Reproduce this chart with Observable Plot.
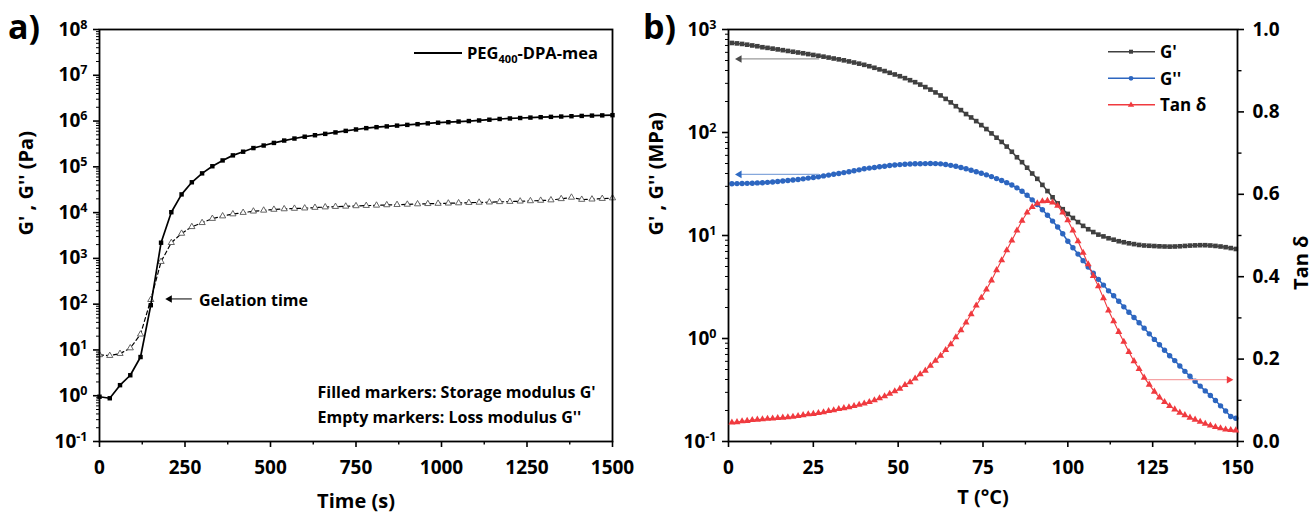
<!DOCTYPE html>
<html><head><meta charset="utf-8">
<script src="https://cdn.jsdelivr.net/npm/d3@7"></script>
<script src="https://cdn.jsdelivr.net/npm/@observablehq/plot@0.6"></script>
<style>
body{margin:0;background:#fff;}
#wrap{position:relative;width:1313px;height:517px;overflow:hidden;background:#fff;}
</style></head><body><div id="wrap"></div>
<script>
// ---------- Panel a data: time sweep ----------
const timeS = [0,30,60,90,120,150,180,210,240,270,300,330,360,390,420,450,480,510,540,570,600,630,660,690,720,750,780,810,840,870,900,930,960,990,1020,1050,1080,1110,1140,1170,1200,1230,1260,1290,1320,1350,1380,1410,1440,1470,1500];
const storageA = [0.95,0.88,1.7,2.8,7,95,2200,10200,25000,46000,
  72000,103000,138000,178000,214000,257000,292000,333000,375000,415000,
  455000,490000,525000,565000,610000,655000,700000,735000,765000,795000,
  825000,855000,890000,920000,945000,975000,1000000,1030000,1070000,1110000,
  1140000,1165000,1190000,1215000,1235000,1255000,1275000,1295000,1315000,1330000,
  1345000];
const lossA = [7.8,7.5,8.3,11,22,125,850,2200,3500,4900,
  6000,7400,8400,9300,10000,10700,11200,11700,12000,12300,
  12500,12900,13200,13500,13700,14000,14200,14400,14700,14900,
  15100,15400,15600,15800,16000,16200,16500,16700,16900,17200,
  17400,17700,18000,18400,18800,20000,21500,19300,19600,20200,
  20800];
const xTicksA = [0,250,500,750,1000,1250,1500];
const xMinorA = [125,375,625,875,1125,1375];
const yTicksA = [1e-1,1e0,1e1,1e2,1e3,1e4,1e5,1e6,1e7,1e8];
const gelation = [{tail: 270, head: 205, g: 130, label: 291}];

// ---------- Panel b data: temperature sweep ----------
const tempC = [1,2.5,4,5.5,7,8.5,10,11.5,13,14.5,
  16,17.5,19,20.5,22,23.5,25,26.5,28,29.5,
  31,32.5,34,35.5,37,38.5,40,41.5,43,44.5,
  46,47.5,49,50.5,52,53.5,55,56.5,58,59.5,
  61,62.5,64,65.5,67,68.5,70,71.5,73,74.5,
  76,77.5,79,80.5,82,83.5,85,86.5,88,89.5,
  91,92.5,94,95.5,97,98.5,100,101.5,103,104.5,
  106,107.5,109,110.5,112,113.5,115,116.5,118,119.5,
  121,122.5,124,125.5,127,128.5,130,131.5,133,134.5,
  136,137.5,139,140.5,142,143.5,145,146.5,148,149.5];
const storageB = [740,733,724,712,700,688,673,663,652,641,
  630,619,608,598,588,577,566,556,545,534,
  523,513,502,490,478,466,454,440,425,410,
  395,380,366,352,337,322,308,292,276,261,
  245,229,212,196,180,165,151,140,129,118,
  108,98,89,81,73,65,57.5,51.5,45.5,40,
  35.5,31,27,23.5,20.5,18,16.2,14.8,13.5,12.4,
  11.5,10.8,10.2,9.8,9.4,9.1,8.8,8.6,8.4,8.25,
  8.1,8.0,7.95,7.9,7.85,7.82,7.8,7.82,7.86,7.92,
  7.98,8.02,8.05,8.05,8.0,7.92,7.82,7.7,7.55,7.4];
const lossB = [31.8,31.9,32.0,32.1,32.2,32.4,32.5,32.8,33.1,33.4,
  33.8,34.2,34.6,35.0,35.5,36.1,36.6,37.2,37.9,38.6,
  39.3,40.0,40.8,41.6,42.5,43.4,44.4,45.1,45.8,46.5,
  47.1,47.8,48.3,48.8,49.1,49.4,49.7,49.8,49.9,50.0,
  49.9,49.6,48.9,48.0,47.0,45.8,44.5,43.0,41.6,40.2,
  38.8,37.3,35.7,34.2,32.6,30.9,29.0,26.9,24.6,22.2,
  20.0,17.8,15.7,13.8,12.1,10.4,8.8,7.6,6.6,5.7,
  4.95,4.3,3.75,3.3,2.9,2.6,2.3,2.03,1.8,1.6,
  1.42,1.26,1.11,0.98,0.87,0.77,0.68,0.61,0.54,0.48,
  0.43,0.385,0.345,0.31,0.28,0.25,0.222,0.198,0.175,0.168];
const tanDelta = [0.046,0.047,0.049,0.050,0.052,0.053,0.054,0.055,0.056,0.057,
  0.058,0.059,0.060,0.062,0.064,0.066,0.067,0.069,0.071,0.074,
  0.076,0.079,0.081,0.083,0.086,0.089,0.092,0.096,0.100,0.105,
  0.110,0.116,0.122,0.128,0.137,0.144,0.153,0.163,0.172,0.184,
  0.196,0.208,0.222,0.236,0.253,0.270,0.289,0.309,0.330,0.349,
  0.369,0.391,0.416,0.440,0.464,0.488,0.512,0.536,0.556,0.569,
  0.578,0.583,0.584,0.580,0.572,0.556,0.537,0.512,0.486,0.458,
  0.430,0.402,0.377,0.348,0.318,0.292,0.266,0.242,0.217,0.195,
  0.176,0.155,0.138,0.121,0.107,0.096,0.086,0.078,0.070,0.064,
  0.058,0.053,0.048,0.043,0.039,0.035,0.032,0.029,0.028,0.027];
const xTicksB = [0,25,50,75,100,125,150];
const xMinorB = [12.5,37.5,62.5,87.5,112.5,137.5];
const yTicksB = [0.1,1,10,100,1000];
const tanTicks = [0,0.2,0.4,0.6,0.8,1.0];
const tanMinor = [0.1,0.3,0.5,0.7,0.9];
const arrowsB = [
  {tail: 26.7, head: 3.2, v: 518, line: "#9a9a9a", headColor: "#4a4a4a"},
  {tail: 26.7, head: 3.2, v: 39.2, line: "#86a8dc", headColor: "#2f6bc4"}
];
const arrowTan = [{tail: 123.4, head: 147.5, v: 0.15, line: "#f5a3a5", headColor: "#f03a3f"}];

// ---------- helpers ----------
const FONT = "Open Sans";
const C_G1 = "#404040", C_G2 = "#2d66c0", C_TAN = "#f03a3f";
const logMinor = (lo, hi) => d3.range(lo, hi).flatMap(e => d3.range(2, 10).map(k => k * Math.pow(10, e)));
const pow10 = d => "10^" + Math.round(Math.log10(d));
const plain = d => String(d);
const tickStyle = {fontSize: 19, fontWeight: "bold", fontFamily: FONT, color: "black", strokeWidth: 1.6, label: null};
const minorStyle = {tickFormat: () => "", color: "black", strokeWidth: 1.4, label: null};
const titleStyle = {text: d => d, fontSize: 20, fontWeight: "bold", fontFamily: FONT, fill: "black"};
function supify(svg){
  d3.select(svg).selectAll("text").each(function(){
    const m = /^10\^(-?\d+)$/.exec(this.textContent);
    if (!m) return;
    const t = d3.select(this);
    t.text(null);
    t.append("tspan").text("10");
    t.append("tspan").attr("dy", "-0.55em").attr("font-size", "0.66em").text(m[1]);
  });
}
const baseStyle = (left) => ({background: "transparent", fontFamily: FONT, overflow: "visible", position: "absolute", left: left + "px", top: "0px"});

// ---------- Panel a ----------
const dataA = timeS.map((t, i) => ({t, gs: storageA[i], gl: lossA[i]}));
const plotA = Plot.plot({
  width: 640, height: 517, marginLeft: 99, marginRight: 28, marginTop: 29, marginBottom: 76,
  style: baseStyle(0),
  x: {domain: [0, 1500]},
  y: {type: "log", domain: [0.1, 1e8]},
  marks: [
    Plot.line(dataA, {x: "t", y: "gl", stroke: "black", strokeWidth: 1.2, strokeDasharray: "4,3"}),
    Plot.dot(dataA, {x: "t", y: "gl", symbol: "triangle", r: 2.3, fill: "white", stroke: "#555", strokeWidth: 0.9}),
    Plot.line(dataA, {x: "t", y: "gs", stroke: "black", strokeWidth: 1.7}),
    Plot.dot(dataA, {x: "t", y: "gs", symbol: "square", r: 2.5, fill: "black"}),
    Plot.link(gelation, {x1: "tail", x2: "head", y1: "g", y2: "g", stroke: "black", strokeWidth: 1}),
    Plot.dot(gelation, {x: "head", y: "g", symbol: "triangle", rotate: -90, r: 2.8, fill: "black"}),
    Plot.text(gelation, {x: "label", y: "g", text: () => "Gelation time", textAnchor: "start", dy: 2, fontSize: 16, fontWeight: 700, fontFamily: FONT, fill: "black"}),
    Plot.text(["Filled markers: Storage modulus G'"], {...titleStyle, frameAnchor: "bottom-left", textAnchor: "start", dx: 218, dy: -44, fontSize: 16, fontWeight: 700}),
    Plot.text(["Empty markers: Loss modulus G''"], {...titleStyle, frameAnchor: "bottom-left", textAnchor: "start", dx: 218, dy: -19, fontSize: 16, fontWeight: 700}),
    Plot.axisX({...tickStyle, ticks: xTicksA, tickSize: 6, tickPadding: 13, tickFormat: plain}),
    Plot.axisX({...minorStyle, ticks: xMinorA, tickSize: 3.5}),
    Plot.axisY({...tickStyle, ticks: yTicksA, tickSize: 6, tickPadding: 6, tickFormat: pow10}),
    Plot.axisY({...minorStyle, ticks: logMinor(-1, 8), tickSize: 3, strokeWidth: 1}),
    Plot.frame({stroke: "black", strokeWidth: 1.8}),
    Plot.text(["Time (s)"], {...titleStyle, frameAnchor: "bottom", dy: 66}),
    Plot.text(["G' , G'' (Pa)"], {...titleStyle, frameAnchor: "left", rotate: -90, dx: -73})
  ]
});
supify(plotA);

// ---------- Panel b (moduli, log axis) ----------
const dataB = tempC.map((T, i) => ({T, gs: storageB[i], gl: lossB[i], tan: tanDelta[i]}));
const plotB = Plot.plot({
  width: 673, height: 517, marginLeft: 88, marginRight: 76, marginTop: 29, marginBottom: 76,
  style: baseStyle(640),
  x: {domain: [0, 150]},
  y: {type: "log", domain: [0.1, 1000]},
  marks: [
    Plot.line(dataB, {x: "T", y: "gs", stroke: C_G1, strokeWidth: 1.5}),
    Plot.dot(dataB, {x: "T", y: "gs", symbol: "square", r: 2.6, fill: C_G1}),
    Plot.line(dataB, {x: "T", y: "gl", stroke: C_G2, strokeWidth: 1.5}),
    Plot.dot(dataB, {x: "T", y: "gl", r: 2.7, fill: C_G2}),
    Plot.link(arrowsB, {x1: "tail", x2: "head", y1: "v", y2: "v", stroke: d => d.line, strokeWidth: 1.2}),
    Plot.dot(arrowsB, {x: "head", y: "v", symbol: "triangle", rotate: -90, r: 2.8, fill: d => d.headColor}),
    Plot.axisX({...tickStyle, ticks: xTicksB, tickSize: 6, tickPadding: 13, tickFormat: plain}),
    Plot.axisX({...minorStyle, ticks: xMinorB, tickSize: 3.5}),
    Plot.axisY({...tickStyle, ticks: yTicksB, tickSize: 6, tickPadding: 6, tickFormat: pow10}),
    Plot.axisY({...minorStyle, ticks: logMinor(-1, 3), tickSize: 3, strokeWidth: 1}),
    Plot.frame({stroke: "black", strokeWidth: 1.8}),
    Plot.text(["T (°C)"], {...titleStyle, frameAnchor: "bottom", dy: 62}),
    Plot.text(["G' , G'' (MPa)"], {...titleStyle, frameAnchor: "left", rotate: -90, dx: -72})
  ]
});
supify(plotB);

// ---------- Panel b (tan delta, right linear axis) ----------
const plotT = Plot.plot({
  width: 673, height: 517, marginLeft: 88, marginRight: 76, marginTop: 29, marginBottom: 76,
  style: baseStyle(640),
  x: {domain: [0, 150], axis: null},
  y: {domain: [0, 1]},
  marks: [
    Plot.line(dataB, {x: "T", y: "tan", stroke: C_TAN, strokeWidth: 1.1}),
    Plot.dot(dataB, {x: "T", y: "tan", symbol: "triangle", r: 2.6, fill: C_TAN}),
    Plot.link(arrowTan, {x1: "tail", x2: "head", y1: "v", y2: "v", stroke: d => d.line, strokeWidth: 1.2}),
    Plot.dot(arrowTan, {x: "head", y: "v", symbol: "triangle", rotate: 90, r: 2.8, fill: d => d.headColor}),
    Plot.axisY({...tickStyle, anchor: "right", ticks: tanTicks, tickSize: 6, tickPadding: 9, tickFormat: d => d.toFixed(1)}),
    Plot.axisY({...minorStyle, anchor: "right", ticks: tanMinor, tickSize: 3.5}),
    Plot.text(["Tan δ"], {...titleStyle, frameAnchor: "right", rotate: -90, dx: 64})
  ]
});

const wrap = document.getElementById("wrap");
wrap.append(plotA, plotB, plotT);

// ---------- panel letters and legends ----------
const over = document.createElement("div");
over.innerHTML = `
<svg width="1313" height="517" style="position:absolute;left:0;top:0;pointer-events:none" font-family="Open Sans" fill="black">
  <text x="8" y="39" font-size="34" font-weight="700">a)</text>
  <text x="643" y="39" font-size="34" font-weight="700">b)</text>
  <line x1="414" x2="462" y1="53" y2="53" stroke="black" stroke-width="2"/>
  <text x="467" y="59" font-size="16.5" font-weight="700">PEG<tspan font-size="11" dy="4">400</tspan><tspan dy="-4">-DPA-mea</tspan></text>
  <line x1="1108" x2="1155" y1="51.7" y2="51.7" stroke="${C_G1}" stroke-width="1.5"/>
  <rect x="1129" y="49.7" width="4" height="4" fill="${C_G1}"/>
  <text x="1160" y="58" font-size="17" font-weight="700">G'</text>
  <line x1="1108" x2="1155" y1="78.3" y2="78.3" stroke="${C_G2}" stroke-width="1.5"/>
  <circle cx="1131" cy="78.3" r="2.4" fill="${C_G2}"/>
  <text x="1160" y="84.6" font-size="17" font-weight="700">G''</text>
  <line x1="1108" x2="1155" y1="104.7" y2="104.7" stroke="${C_TAN}" stroke-width="1.5"/>
  <path d="M1131,101.4 L1134.2,106.8 L1127.8,106.8 Z" fill="${C_TAN}"/>
  <text x="1160" y="111" font-size="17" font-weight="700">Tan δ</text>
</svg>`;
wrap.append(over.firstElementChild);
</script></body></html>
